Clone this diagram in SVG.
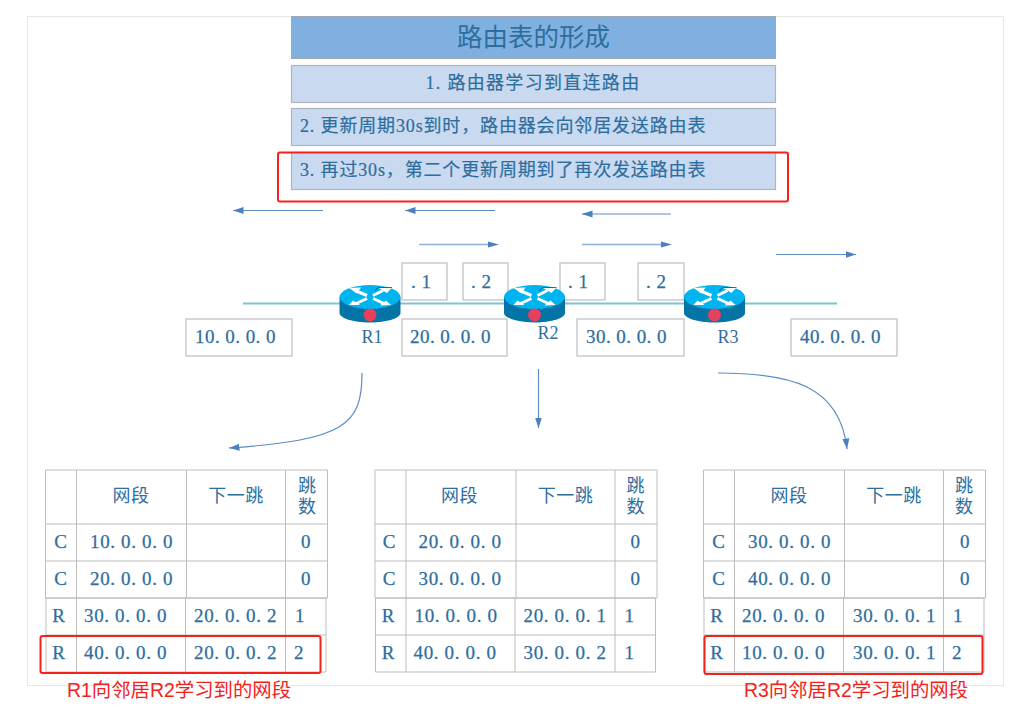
<svg xmlns="http://www.w3.org/2000/svg" width="1011" height="722" viewBox="0 0 1011 722">
<style>
text{font-family:"Liberation Serif","Noto Sans CJK SC",serif;fill:#2e6e9e}
.m{text-anchor:middle}
.box{fill:#fff;stroke:#bdbdbd;stroke-width:1.2}
.bar{fill:#c9daf0;stroke:#aeb4bd;stroke-width:1.2}
.t{font-size:18px;letter-spacing:.85px;stroke:#2e6e9e;stroke-width:.2}
.h{font-size:18px;letter-spacing:.5px;font-family:"Noto Sans CJK SC",sans-serif}
.v{font-size:18px;letter-spacing:3.5px;font-family:"Noto Sans CJK SC",sans-serif;writing-mode:vertical-rl}
.ip{font-size:19px;letter-spacing:.45px;stroke:#2e6e9e;stroke-width:.25}
.tc{letter-spacing:.65px}
.red{fill:none;stroke:#f5221b;stroke-width:2}
.rt{font-family:"Liberation Sans","Noto Sans CJK SC",sans-serif;font-size:19.400px;fill:#f5221b}
.cell{fill:none;stroke:#bdbdbd;stroke-width:1}
.ar{fill:none;stroke:#5b8cc6;stroke-width:1.200}
.ar2{fill:none;stroke:#8fb0d8;stroke-width:1.600}
.lan{stroke:#7fc2d6;stroke-width:2}
.hd{fill:#4d80bf}
</style>
<defs>
<marker id="a" markerUnits="userSpaceOnUse" markerWidth="11" markerHeight="8" refX="10.500" refY="4" orient="auto"><path d="M0 .5L10.500 4L0 7.500Z" fill="#4d80bf"/></marker>
<g id="router">
<path d="M-30.500 0V16C-30.500 21 -17 25.500 0 25.500S30.500 21 30.500 16V0Z" fill="#0474a6"/>
<ellipse rx="30.500" ry="12" fill="#00b4ef"/>
<path d="M-15 -6.500L-3 -1.500M3 -1.500L13 -6.500M-3 1.500L-14 6.500M3 1.500L14 6.500" fill="none" stroke="#fff" stroke-width="3"/>
<path d="M-21 -9L-9 -9.500L-13 -3.500ZM8 -9.500L22 -9.500L17 -4ZM-21 8L-17 3.500L-10 8ZM21 8L16 3.500L10 8.500Z" fill="#fff"/>
<path d="M5 -6L8 -9.500L22 -9.500" fill="none" stroke="#222" stroke-width=".7"/>
<circle cy="18" r="6.500" fill="#e5405e"/>
</g>
<g id="tbl">
<path class="cell" d="M.5 0H282.500V128H.5ZM.5 54H282.500M.5 91H282.500M31.500 0V128M141.500 0V128M240.500 0V128"/>
<path class="cell" d="M1 128H281V202H1ZM1 165H281M31.500 128V202M140.500 128V202M240.500 128V202"/>
</g>
</defs>
<rect id="frame" x="27.500" y="16.500" width="976" height="669" fill="#fff" stroke="#e6e6e6"/>

<g id="connectors">
<path class="lan" d="M243 303.500H340M400 303.500H505M565 303.500H685M745 303.500H837"/>
<path class="ar" d="M323 210.500H233" marker-end="url(#a)"/>
<path class="ar" d="M495 210.500H405" marker-end="url(#a)"/>
<path class="ar" d="M671 214H582" marker-end="url(#a)"/>
<path class="ar2" d="M419 244.500H490"/>
<path class="hd" d="M488 241.500L499 244.500L488 247.500Z"/>
<path class="ar2" d="M582 244.500H663"/>
<path class="hd" d="M661 241.500L672 244.500L661 247.500Z"/>
<path class="ar" d="M776 254.500H856" marker-end="url(#a)"/>
<path class="ar" d="M362 373C362 425 345 440 229 448" marker-end="url(#a)"/>
<path class="ar" d="M538.500 369V428" marker-end="url(#a)"/>
<path class="ar" d="M718 373C790 373 840 385 847 449" marker-end="url(#a)"/>
</g>

<g id="title"><rect x="291.500" y="16.500" width="484" height="42" fill="#7fb0e0" stroke="#a0a8b2"/><text class="m" x="533.500" y="46" style="font-size:25.500px;font-family:'Noto Sans CJK SC',sans-serif">路由表的形成</text></g>
<g id="step1"><rect class="bar" x="291.500" y="65.500" width="484" height="37"/><text class="m t" x="533" y="89" style="letter-spacing:1.300px">1. 路由器学习到直连路由</text></g>
<g id="step2"><rect class="bar" x="291.500" y="108.500" width="484" height="37"/><text class="t" x="300" y="132">2. 更新周期30s到时，路由器会向邻居发送路由表</text></g>
<g id="step3"><rect class="bar" x="291.500" y="152.500" width="484" height="37"/><text class="t" x="300" y="176">3. 再过30s，第二个更新周期到了再次发送路由表</text></g>
<rect class="red" x="278" y="152.500" width="510" height="49" rx="2"/>

<g id="lbl-1a"><rect class="box" x="402" y="263" width="45" height="37"/><text class="ip" x="411" y="288">. 1</text></g>
<g id="lbl-2a"><rect class="box" x="463" y="263" width="45" height="37"/><text class="ip" x="471" y="288">. 2</text></g>
<g id="lbl-1b"><rect class="box" x="560" y="263" width="45" height="37"/><text class="ip" x="568" y="288">. 1</text></g>
<g id="lbl-2b"><rect class="box" x="638" y="263" width="46" height="37"/><text class="ip" x="646" y="288">. 2</text></g>
<g id="net10"><rect class="box" x="186" y="319" width="106" height="37"/><text class="ip" x="195" y="343">10. 0. 0. 0</text></g>
<g id="net20"><rect class="box" x="402" y="319" width="105" height="37"/><text class="ip" x="410" y="343">20. 0. 0. 0</text></g>
<g id="net30"><rect class="box" x="577" y="319" width="107" height="37"/><text class="ip" x="586" y="343">30. 0. 0. 0</text></g>
<g id="net40"><rect class="box" x="791" y="319" width="106" height="37"/><text class="ip" x="800" y="343">40. 0. 0. 0</text></g>

<g id="R1"><use href="#router" x="370" y="297"/><text class="m" x="372" y="343" style="font-size:18px">R1</text></g>
<g id="R2"><use href="#router" x="534.500" y="297"/><text class="m" x="548" y="339" style="font-size:18px">R2</text></g>
<g id="R3"><use href="#router" x="714.500" y="297"/><text class="m" x="728" y="343" style="font-size:18px">R3</text></g>

<g id="table-r1" transform="translate(45 470)">
<use href="#tbl"/>
<text class="h m" x="86" y="32">网段</text><text class="h m" x="191" y="32">下一跳</text><text class="v" x="262" y="6">跳数</text>
<text class="ip tc m" x="16" y="78">C</text><text class="ip tc" x="45" y="78">10. 0. 0. 0</text><text class="ip tc m" x="261" y="78">0</text>
<text class="ip tc m" x="16" y="115">C</text><text class="ip tc" x="45" y="115">20. 0. 0. 0</text><text class="ip tc m" x="261" y="115">0</text>
<text class="ip tc m" x="14" y="152">R</text><text class="ip tc" x="39" y="152">30. 0. 0. 0</text><text class="ip tc" x="149" y="152">20. 0. 0. 2</text><text class="ip tc" x="250" y="152">1</text>
<text class="ip tc m" x="14" y="189">R</text><text class="ip tc" x="39" y="189">40. 0. 0. 0</text><text class="ip tc" x="149" y="189">20. 0. 0. 2</text><text class="ip tc" x="249" y="189">2</text>
</g>
<g id="table-r2" transform="translate(374.500 470)">
<use href="#tbl"/>
<text class="h m" x="85" y="32">网段</text><text class="h m" x="191" y="32">下一跳</text><text class="v" x="261" y="6">跳数</text>
<text class="ip tc m" x="15" y="78">C</text><text class="ip tc" x="44" y="78">20. 0. 0. 0</text><text class="ip tc m" x="261" y="78">0</text>
<text class="ip tc m" x="15" y="115">C</text><text class="ip tc" x="44" y="115">30. 0. 0. 0</text><text class="ip tc m" x="261" y="115">0</text>
<text class="ip tc m" x="14" y="152">R</text><text class="ip tc" x="40" y="152">10. 0. 0. 0</text><text class="ip tc" x="149" y="152">20. 0. 0. 1</text><text class="ip tc" x="250" y="152">1</text>
<text class="ip tc m" x="14" y="189">R</text><text class="ip tc" x="39" y="189">40. 0. 0. 0</text><text class="ip tc" x="149" y="189">30. 0. 0. 2</text><text class="ip tc" x="250" y="189">1</text>
</g>
<g id="table-r3" transform="translate(703 470)">
<use href="#tbl"/>
<text class="h m" x="86" y="32">网段</text><text class="h m" x="191" y="32">下一跳</text><text class="v" x="261" y="6">跳数</text>
<text class="ip tc m" x="16" y="78">C</text><text class="ip tc" x="45" y="78">30. 0. 0. 0</text><text class="ip tc m" x="262" y="78">0</text>
<text class="ip tc m" x="16" y="115">C</text><text class="ip tc" x="45" y="115">40. 0. 0. 0</text><text class="ip tc m" x="262" y="115">0</text>
<text class="ip tc m" x="14" y="152">R</text><text class="ip tc" x="39" y="152">20. 0. 0. 0</text><text class="ip tc" x="150" y="152">30. 0. 0. 1</text><text class="ip tc" x="250" y="152">1</text>
<text class="ip tc m" x="14" y="189">R</text><text class="ip tc" x="39" y="189">10. 0. 0. 0</text><text class="ip tc" x="150" y="189">30. 0. 0. 1</text><text class="ip tc" x="249" y="189">2</text>
</g>
<rect class="red" x="40.500" y="636" width="280" height="37" rx="2"/>
<rect class="red" x="704.500" y="636" width="278" height="38" rx="2"/>
<text class="rt" x="67" y="697">R1向邻居R2学习到的网段</text>
<text class="rt" x="744" y="697">R3向邻居R2学习到的网段</text>
</svg>
